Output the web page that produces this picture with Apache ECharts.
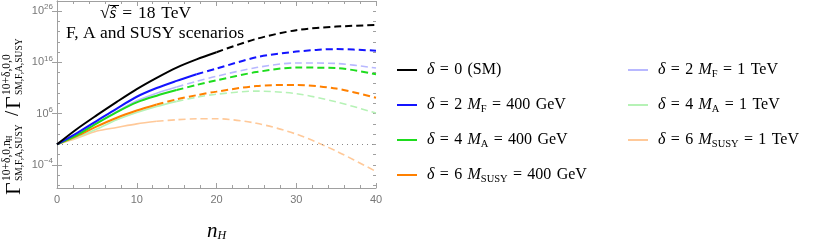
<!DOCTYPE html>
<html><head><meta charset="utf-8">
<script src="https://cdn.jsdelivr.net/npm/echarts@6/dist/echarts.min.js"></script>
<style>html,body{margin:0;padding:0;background:#fff}#c{width:830px;height:247px}</style>
</head><body><div id="c"></div>
<script>
// ---- data ----
const nH = [0, 2.5, 5, 7.5, 10, 12.5, 15, 17.5, 20, 25, 30, 35, 40];
const sm        = [1, 1e3, 5e5, 2e8, 6.3e10, 1e13, 1e15, 4e16, 1e18, 4e20, 2e22, 1e23, 2e23];
const f400      = [1, 1.6e2, 4e4, 1e7, 2e9, 1e11, 2.5e12, 5e13, 6.3e14, 1e17, 1.3e18, 4e18, 2e18];
const a400      = [1, 63, 1.3e4, 2e6, 1.6e8, 3.2e9, 4e10, 4e11, 3.2e12, 1.3e14, 1e15, 8e14, 5e13];
const susy400   = [1, 40, 3.2e3, 1.6e5, 4e6, 6.3e7, 6.3e8, 4e9, 2e10, 2.5e11, 4e11, 8e10, 1.3e9];
const f1TeV     = [1, 80, 1.6e4, 2.5e6, 3.2e8, 1e10, 1.6e11, 2e12, 2e13, 1e15, 8e15, 6.3e15, 8e14];
const a1TeV     = [1, 25, 1e3, 6.3e4, 1.6e6, 2.5e7, 2.5e8, 1.6e9, 6.3e9, 2.5e10, 8e9, 2e8, 1.3e6];
const susy1TeV  = [1, 16, 400, 2e3, 1e4, 3.2e4, 6.3e4, 1e5, 1e5, 1.3e4, 100, 0.05, 5e-6];
const yMajorTicks = [1e-4, 1e6, 1e16, 1e26];
const yMinorTicks = [1e-8,1e-6,1e-4,1e-2,1,1e2,1e4,1e6,1e8,1e10,1e12,1e14,1e16,1e18,1e20,1e22,1e24,1e26,1e28];
const yMin = 3e-9, yMax = 1e28;
const names = ['δ = 0 (SM)','δ = 2 MF = 400 GeV','δ = 4 MA = 400 GeV','δ = 6 MSUSY = 400 GeV',
               'δ = 2 MF = 1 TeV','δ = 4 MA = 1 TeV','δ = 6 MSUSY = 1 TeV'];

// ---- styling ----
const curves = [
  {name: names[6], data: susy1TeV, color: '#ffc999', width: 1.6, split: 5},
  {name: names[5], data: a1TeV,    color: '#b6f2b6', width: 1.6, split: 6},
  {name: names[4], data: f1TeV,    color: '#b8b8ff', width: 1.6, split: 6},
  {name: names[3], data: susy400,  color: '#ff8000', width: 2, split: 5},
  {name: names[2], data: a400,     color: '#1edc1e', width: 2, split: 6},
  {name: names[1], data: f400,     color: '#1414ff', width: 2, split: 7},
  {name: names[0], data: sm,       color: '#000000', width: 2, split: 8}
];
const SP = '\u2004';
const legendRich = {
  [names[0]]: '{d|δ}' + SP + '=' + SP + '0' + SP + '(SM)',
  [names[1]]: '{d|δ}' + SP + '=' + SP + '2' + SP + '{i|M}{s|F}' + SP + '=' + SP + '400' + SP + 'GeV',
  [names[2]]: '{d|δ}' + SP + '=' + SP + '4' + SP + '{i|M}{s|A}' + SP + '=' + SP + '400' + SP + 'GeV',
  [names[3]]: '{d|δ}' + SP + '=' + SP + '6' + SP + '{i|M}{s|SUSY}' + SP + '=' + SP + '400' + SP + 'GeV',
  [names[4]]: '{d|δ}' + SP + '=' + SP + '2' + SP + '{i|M}{s|F}' + SP + '=' + SP + '1' + SP + 'TeV',
  [names[5]]: '{d|δ}' + SP + '=' + SP + '4' + SP + '{i|M}{s|A}' + SP + '=' + SP + '1' + SP + 'TeV',
  [names[6]]: '{d|δ}' + SP + '=' + SP + '6' + SP + '{i|M}{s|SUSY}' + SP + '=' + SP + '1' + SP + 'TeV'
};
const SERIF = 'Liberation Serif';
const FRAME = '#a0a0a0';
const LFS = 16;
const richText = {
  d: {fontStyle: 'italic', fontFamily: SERIF, fontSize: LFS, padding: [0,0,0,5], lineHeight: 20},
  i: {fontStyle: 'italic', fontFamily: SERIF, fontSize: LFS, lineHeight: 20},
  s: {fontFamily: SERIF, fontSize: 10.5, lineHeight: 12, verticalAlign: 'bottom'}
};

const series = [];
curves.forEach((c, k) => {
  const pts = nH.map((x, i) => [x, c.data[i]]);
  series.push({
    name: c.name, type: 'line', data: pts.slice(0, c.split + 1),
    showSymbol: false, smooth: 0.3,
    lineStyle: {color: c.color, width: c.width}, itemStyle: {color: c.color},
    z: 3 + k,
    markLine: k === 0 ? {silent: true, symbol: 'none', label: {show: false},
      lineStyle: {color: '#888', type: [1, 4], width: 1}, data: [{yAxis: 1}]} : undefined
  });
  series.push({
    name: c.name + ' (cont.)', type: 'line', data: pts.slice(c.split),
    showSymbol: false, smooth: 0.3,
    lineStyle: {color: c.color, width: c.width, type: [7, 4]}, itemStyle: {color: c.color},
    z: 3 + k
  });
});

function yLab(v) {
  const e = Math.round(Math.log10(v));
  return '{b|10}{p|' + (e < 0 ? '\u2212' + (-e) : e) + '}';
}
const yLabRich = {
  b: {fontSize: 11, color: '#777', fontFamily: 'Liberation Sans', lineHeight: 16},
  p: {fontSize: 8, color: '#777', fontFamily: 'Liberation Sans', lineHeight: 10, verticalAlign: 'top'}
};

function xAx(pos, labels) {
  return {
    type: 'value', position: pos, min: 0, max: 40, interval: 10,
    axisLine: {show: true, lineStyle: {color: FRAME, width: 1}},
    axisTick: {show: true, inside: true, length: 5, lineStyle: {color: FRAME}},
    minorTick: {show: true, splitNumber: 5, length: 3, lineStyle: {color: FRAME}},
    splitLine: {show: false},
    axisLabel: {show: labels, color: '#777', fontSize: 11, fontFamily: 'Liberation Sans', margin: 6},
    name: labels ? '{n|n}{h|H}' : '', nameLocation: 'middle', nameGap: 32,
    nameTextStyle: {color: '#000', rich: {
      n: {fontFamily: SERIF, fontStyle: 'italic', fontSize: 21, lineHeight: 22, color: '#000'},
      h: {fontFamily: SERIF, fontStyle: 'italic', fontSize: 12, lineHeight: 14, verticalAlign: 'bottom', color: '#000'}
    }}
  };
}
function yAx(pos, ticks, len, labels, line) {
  return {
    type: 'log', logBase: 10, position: pos, min: yMin, max: yMax,
    axisLine: {show: line, lineStyle: {color: FRAME, width: 1}},
    axisTick: {show: true, inside: true, length: len, customValues: ticks, lineStyle: {color: FRAME}},
    minorTick: {show: false}, splitLine: {show: false},
    axisLabel: {show: labels, customValues: ticks, formatter: yLab, margin: 4, rich: yLabRich}
  };
}

const chart = echarts.init(document.getElementById('c'), null, {renderer: 'canvas'});
const ylabel = [
  {type: 'text', x: 0, y: -7, style: {text: 'Γ', font: '22px ' + SERIF, fill: '#000', verticalAlign: 'middle'}},
  {type: 'text', x: 14, y: -14, style: {text: '10+δ,0,n', font: '11.5px ' + SERIF, fill: '#000', verticalAlign: 'middle'}},
  {type: 'text', x: 54, y: -11, style: {text: 'H', font: '7.5px ' + SERIF, fill: '#000', verticalAlign: 'middle'}},
  {type: 'text', x: 14, y: -2, style: {text: 'SM,F,A,SUSY', font: '9.5px ' + SERIF, fill: '#000', verticalAlign: 'middle'}},
  {type: 'text', x: 79, y: -8, style: {text: '/', font: '19px ' + SERIF, fill: '#000', verticalAlign: 'middle'}},
  {type: 'text', x: 86, y: -7, style: {text: 'Γ', font: '22px ' + SERIF, fill: '#000', verticalAlign: 'middle'}},
  {type: 'text', x: 100, y: -14, style: {text: '10+δ,0,0', font: '11.5px ' + SERIF, fill: '#000', verticalAlign: 'middle'}},
  {type: 'text', x: 100, y: -2, style: {text: 'SM,F,A,SUSY', font: '9.5px ' + SERIF, fill: '#000', verticalAlign: 'middle'}}
];
chart.setOption({
  animation: false,
  backgroundColor: '#fff',
  grid: {left: 57, right: 454, top: 1, bottom: 50, containLabel: false},
  xAxis: [xAx('bottom', true), xAx('top', false)],
  yAxis: [yAx('left', yMajorTicks, 5, true, true), yAx('right', yMajorTicks, 5, false, true),
          yAx('left', yMinorTicks, 3, false, false), yAx('right', yMinorTicks, 3, false, false)],
  legend: [
    {data: names.slice(0, 4), orient: 'vertical', left: 397, top: 60, itemGap: 15, padding: 0,
     icon: 'rect', itemWidth: 20, itemHeight: 2, formatter: n => legendRich[n],
     textStyle: {fontFamily: SERIF, fontSize: LFS, color: '#000', lineHeight: 20, rich: richText}},
    {data: names.slice(4), orient: 'vertical', left: 628, top: 60, itemGap: 15, padding: 0,
     icon: 'rect', itemWidth: 20, itemHeight: 2, formatter: n => legendRich[n],
     textStyle: {fontFamily: SERIF, fontSize: LFS, color: '#000', lineHeight: 20, rich: richText}}
  ],
  graphic: [
    {type: 'text', left: 100, top: 4, style: {
      text: '{r|√}{s|ŝ}' + SP + '=' + SP + '18' + SP + 'TeV', font: '17.5px ' + SERIF, fill: '#000',
      rich: {r: {fontFamily: SERIF, fontSize: 17.5}, s: {fontFamily: SERIF, fontSize: 17.5, fontStyle: 'italic'}}}},
    {type: 'line', shape: {x1: 109.5, y1: 5.5, x2: 119, y2: 5.5}, style: {stroke: '#000', lineWidth: 1}},
    {type: 'text', left: 66, top: 24, style: {text: 'F, A and SUSY scenarios', font: '17.5px ' + SERIF, fill: '#000'}},
    {type: 'group', x: 21, y: 195, rotation: Math.PI / 2, children: ylabel}
  ],
  series: series
});
</script></body></html>
